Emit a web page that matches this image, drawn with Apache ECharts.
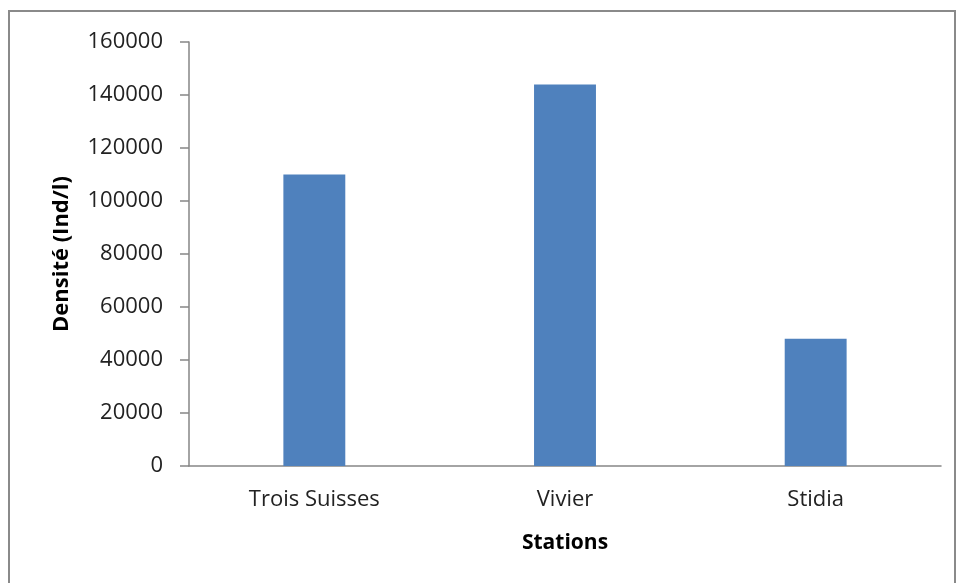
<!DOCTYPE html>
<html>
<head>
<meta charset="utf-8">
<script src="https://cdn.jsdelivr.net/npm/echarts@6/dist/echarts.min.js"></script>
<style>
  html, body { margin: 0; padding: 0; background: #fff; }
  #chart { width: 957px; height: 583px; }
</style>
</head>
<body>
<div id="chart"></div>
<script>
const stations = ['Trois Suisses', 'Vivier', 'Stidia']
const densite = [110000, 144000, 48000]

const font = '"Open Sans", sans-serif'
const axisGray = '#868686'

const myChart = echarts.init(document.getElementById('chart'))
const option = {
  animation: false,
  backgroundColor: '#fff',
  graphic: [
    {
      type: 'rect',
      shape: { x: 9, y: 11, width: 946, height: 590 },
      style: { fill: 'none', stroke: '#8a8a8a', lineWidth: 2 },
      silent: true
    }
  ],
  grid: {
    left: 189,
    right: 16,
    top: 42,
    bottom: 117
  },
  xAxis: {
    type: 'category',
    data: stations,
    name: 'Stations',
    nameLocation: 'middle',
    nameGap: 67,
    nameTextStyle: {
      fontFamily: font,
      fontSize: 21,
      fontWeight: 'bold',
      color: '#000',
      verticalAlign: 'top'
    },
    axisLine: { lineStyle: { color: axisGray, width: 1.5 } },
    axisTick: { show: false },
    axisLabel: {
      fontFamily: font,
      fontSize: 22,
      color: '#222',
      margin: 23
    }
  },
  yAxis: {
    type: 'value',
    min: 0,
    max: 160000,
    interval: 20000,
    name: 'Densité (Ind/l)',
    nameLocation: 'middle',
    nameGap: 116,
    nameTextStyle: {
      fontFamily: font,
      fontSize: 22,
      fontWeight: 'bold',
      color: '#000'
    },
    axisLine: { show: true, lineStyle: { color: axisGray, width: 1.5 } },
    axisTick: { show: true, length: 9, lineStyle: { color: axisGray, width: 1.5 } },
    splitLine: { show: false },
    axisLabel: {
      fontFamily: font,
      fontSize: 22,
      color: '#222',
      margin: 26,
      formatter: (v) => String(v)
    }
  },
  series: [
    {
      type: 'bar',
      data: densite,
      barWidth: '24.7%',
      itemStyle: { color: '#4f81bd' }
    }
  ]
}
myChart.setOption(option)
</script>
</body>
</html>
